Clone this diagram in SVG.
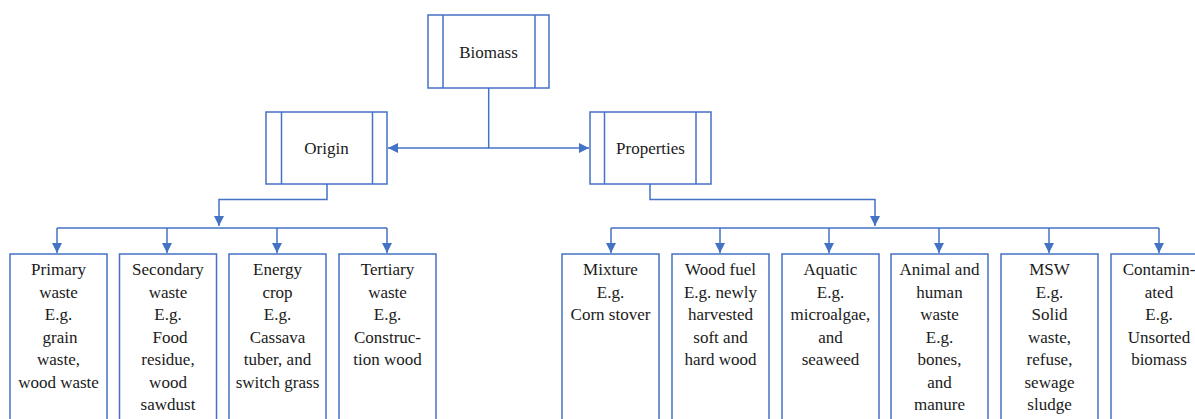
<svg xmlns="http://www.w3.org/2000/svg" width="1195" height="419" viewBox="0 0 1195 419">
<defs>
<style>
.box{fill:#fff;stroke:#4472C4;stroke-width:1.5}
.bar{stroke:#4472C4;stroke-width:1.5}
.con{fill:none;stroke:#4472C4;stroke-width:1.5}
text{font-size:17px;fill:#1a1a1a;text-anchor:middle}
</style>
<marker id="ah" viewBox="0 0 10 10" refX="10" refY="5" markerWidth="10" markerHeight="10" markerUnits="userSpaceOnUse" orient="auto">
<path d="M0,0 L10,5 L0,10 Z" fill="#4472C4"/>
</marker>
</defs>
<rect width="1195" height="419" fill="#fff"/>

<g id="connectors">
<path class="con" d="M488.7,88 V148 H388" marker-end="url(#ah)"/>
<path class="con" d="M488.7,148 H589" marker-end="url(#ah)"/>
<path class="con" d="M327,184 V199.5 H219 V226" marker-end="url(#ah)"/>
<path class="con" d="M57,228 H387"/>
<path class="con" d="M57,228 V253" marker-end="url(#ah)"/>
<path class="con" d="M167,228 V253" marker-end="url(#ah)"/>
<path class="con" d="M277,228 V253" marker-end="url(#ah)"/>
<path class="con" d="M387,228 V253" marker-end="url(#ah)"/>
<path class="con" d="M650,184 V199.5 H875 V226" marker-end="url(#ah)"/>
<path class="con" d="M611,228 H1159"/>
<path class="con" d="M611,228 V253" marker-end="url(#ah)"/>
<path class="con" d="M720,228 V253" marker-end="url(#ah)"/>
<path class="con" d="M829,228 V253" marker-end="url(#ah)"/>
<path class="con" d="M939,228 V253" marker-end="url(#ah)"/>
<path class="con" d="M1049,228 V253" marker-end="url(#ah)"/>
<path class="con" d="M1159,228 V253" marker-end="url(#ah)"/>
</g>

<g id="biomass">
<rect class="box" x="428" y="15" width="121" height="73"/>
<line class="bar" x1="443" y1="15" x2="443" y2="88"/>
<line class="bar" x1="535" y1="15" x2="535" y2="88"/>
<text style="font-family:'Liberation Serif'" x="488.5" y="58">Biomass</text>
</g>

<g id="origin">
<rect class="box" x="266" y="112" width="121" height="72"/>
<line class="bar" x1="281.5" y1="112" x2="281.5" y2="184"/>
<line class="bar" x1="372.5" y1="112" x2="372.5" y2="184"/>
<text style="font-family:'Liberation Serif'" x="326.5" y="154">Origin</text>
</g>

<g id="properties">
<rect class="box" x="590" y="112" width="121" height="72"/>
<line class="bar" x1="604.5" y1="112" x2="604.5" y2="184"/>
<line class="bar" x1="696" y1="112" x2="696" y2="184"/>
<text style="font-family:'Liberation Serif'" x="650.5" y="154">Properties</text>
</g>

<g id="primary">
<rect class="box" x="10" y="254" width="97" height="180"/>
<text style="font-family:'Liberation Serif'" x="58.5" y="275">Primary</text>
<text style="font-family:'Liberation Serif'" x="58.5" y="297.5">waste</text>
<text style="font-family:'Liberation Serif'" x="58.5" y="320">E.g.</text>
<text style="font-family:'Liberation Serif'" x="60" y="342.5">grain</text>
<text style="font-family:'Liberation Serif'" x="58.5" y="365">waste,</text>
<text style="font-family:'Liberation Serif'" x="58.5" y="387.5">wood waste</text>
</g>

<g id="secondary">
<rect class="box" x="119.5" y="254" width="97" height="180"/>
<text style="font-family:'Liberation Serif'" x="168" y="275">Secondary</text>
<text style="font-family:'Liberation Serif'" x="168" y="297.5">waste</text>
<text style="font-family:'Liberation Serif'" x="168" y="320">E.g.</text>
<text style="font-family:'Liberation Serif'" x="170" y="342.5">Food</text>
<text style="font-family:'Liberation Serif'" x="168" y="365">residue,</text>
<text style="font-family:'Liberation Serif'" x="168" y="387.5">wood</text>
<text style="font-family:'Liberation Serif'" x="168" y="410">sawdust</text>
</g>

<g id="energy">
<rect class="box" x="229" y="254" width="97" height="180"/>
<text style="font-family:'Liberation Serif'" x="277.5" y="275">Energy</text>
<text style="font-family:'Liberation Serif'" x="277.5" y="297.5">crop</text>
<text style="font-family:'Liberation Serif'" x="277.5" y="320">E.g.</text>
<text style="font-family:'Liberation Serif'" x="277.5" y="342.5">Cassava</text>
<text style="font-family:'Liberation Serif'" x="277.5" y="365">tuber, and</text>
<text style="font-family:'Liberation Serif'" x="277.5" y="387.5">switch grass</text>
</g>

<g id="tertiary">
<rect class="box" x="339" y="254" width="97" height="180"/>
<text style="font-family:'Liberation Serif'" x="387.5" y="275">Tertiary</text>
<text style="font-family:'Liberation Serif'" x="387.5" y="297.5">waste</text>
<text style="font-family:'Liberation Serif'" x="387.5" y="320">E.g.</text>
<text style="font-family:'Liberation Serif'" x="387.5" y="342.5">Construc-</text>
<text style="font-family:'Liberation Serif'" x="387.5" y="365">tion wood</text>
</g>

<g id="mixture">
<rect class="box" x="562" y="254" width="97" height="180"/>
<text style="font-family:'Liberation Serif'" x="610.5" y="275">Mixture</text>
<text style="font-family:'Liberation Serif'" x="610.5" y="297.5">E.g.</text>
<text style="font-family:'Liberation Serif'" x="610.5" y="320">Corn stover</text>
</g>

<g id="woodfuel">
<rect class="box" x="672" y="254" width="97" height="180"/>
<text style="font-family:'Liberation Serif'" x="720.5" y="275">Wood fuel</text>
<text style="font-family:'Liberation Serif'" x="720.5" y="297.5">E.g. newly</text>
<text style="font-family:'Liberation Serif'" x="720.5" y="320">harvested</text>
<text style="font-family:'Liberation Serif'" x="720.5" y="342.5">soft and</text>
<text style="font-family:'Liberation Serif'" x="720.5" y="365">hard wood</text>
</g>

<g id="aquatic">
<rect class="box" x="782" y="254" width="97" height="180"/>
<text style="font-family:'Liberation Serif'" x="830.5" y="275">Aquatic</text>
<text style="font-family:'Liberation Serif'" x="830.5" y="297.5">E.g.</text>
<text style="font-family:'Liberation Serif'" x="830.5" y="320">microalgae,</text>
<text style="font-family:'Liberation Serif'" x="830.5" y="342.5">and</text>
<text style="font-family:'Liberation Serif'" x="830.5" y="365">seaweed</text>
</g>

<g id="animal">
<rect class="box" x="891" y="254" width="97" height="180"/>
<text style="font-family:'Liberation Serif'" x="939.5" y="275">Animal and</text>
<text style="font-family:'Liberation Serif'" x="939.5" y="297.5">human</text>
<text style="font-family:'Liberation Serif'" x="939.5" y="320">waste</text>
<text style="font-family:'Liberation Serif'" x="939.5" y="342.5">E.g.</text>
<text style="font-family:'Liberation Serif'" x="939.5" y="365">bones,</text>
<text style="font-family:'Liberation Serif'" x="939.5" y="387.5">and</text>
<text style="font-family:'Liberation Serif'" x="939.5" y="410">manure</text>
</g>

<g id="msw">
<rect class="box" x="1001" y="254" width="97" height="180"/>
<text style="font-family:'Liberation Serif'" x="1049.5" y="275">MSW</text>
<text style="font-family:'Liberation Serif'" x="1049.5" y="297.5">E.g.</text>
<text style="font-family:'Liberation Serif'" x="1049.5" y="320">Solid</text>
<text style="font-family:'Liberation Serif'" x="1049.5" y="342.5">waste,</text>
<text style="font-family:'Liberation Serif'" x="1049.5" y="365">refuse,</text>
<text style="font-family:'Liberation Serif'" x="1049.5" y="387.5">sewage</text>
<text style="font-family:'Liberation Serif'" x="1049.5" y="410">sludge</text>
</g>

<g id="contaminated">
<rect class="box" x="1111" y="254" width="97" height="180"/>
<text style="font-family:'Liberation Serif'" x="1159" y="275">Contamin-</text>
<text style="font-family:'Liberation Serif'" x="1159" y="297.5">ated</text>
<text style="font-family:'Liberation Serif'" x="1159" y="320">E.g.</text>
<text style="font-family:'Liberation Serif'" x="1159" y="342.5">Unsorted</text>
<text style="font-family:'Liberation Serif'" x="1159" y="365">biomass</text>
</g>
</svg>
